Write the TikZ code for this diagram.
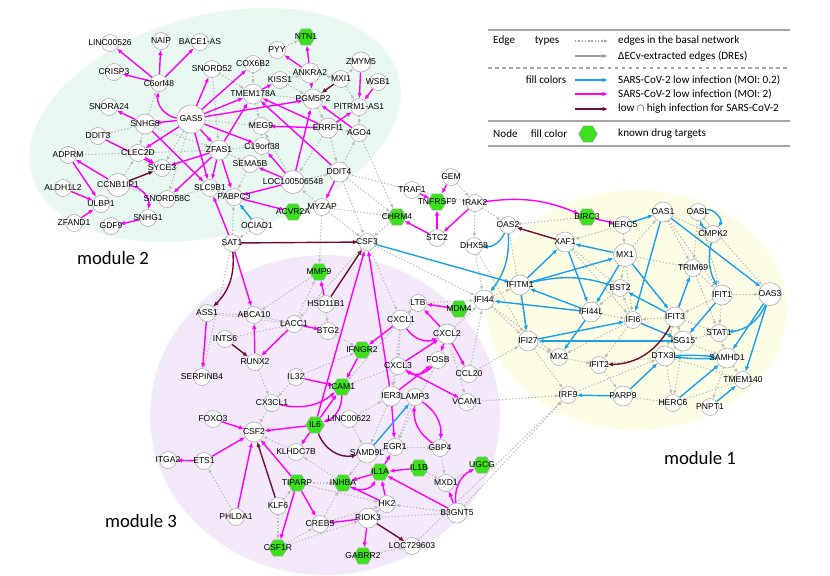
\documentclass[tikz,border=0pt]{standalone}
\usepackage{fontspec}
\setmainfont{Liberation Sans}
\newfontfamily\calibrifont{Carlito}
\usetikzlibrary{
arrows.meta,
positioning,
shapes.geometric,
backgrounds
}
\definecolor{moiLow}{HTML}{1BA1EC}
\definecolor{moiHigh}{HTML}{FF00FF}
\definecolor{moiBoth}{HTML}{6D1038}
\definecolor{drugGreen}{HTML}{3BE21B}
\definecolor{modOneBg}{HTML}{FDFDE6}
\definecolor{modTwoBg}{HTML}{E9F8F1}
\definecolor{modThreeBg}{HTML}{F4E9FA}
\definecolor{basalGray}{HTML}{BDBDBD}

\pgfdeclarelayer{modules}
\pgfdeclarelayer{edges}
\pgfsetlayers{modules,edges,main}

\newcommand{\genefont}{\fontsize{7.3}{8}\selectfont}

\tikzset{
  gene/.style={circle, draw=gray!65, fill=white, line width=0.5pt, inner sep=0pt, minimum size=0.51cm},
  hub/.style={gene, minimum size=0.6cm},
  bighub/.style={gene, minimum size=0.69cm},
  drug/.style={regular polygon, regular polygon sides=6, draw=gray!65, fill=drugGreen, line width=0.5pt, inner sep=0pt, minimum size=0.56cm},
  every label/.style={font=\genefont, inner sep=0pt, text=black},
  dreTip/.style={-{Latex[length=4.5pt,width=3.8pt]}},
  lowEdge/.style={dreTip, moiLow, line width=1.2pt},
  highEdge/.style={dreTip, moiHigh, line width=1.2pt},
  bothEdge/.style={dreTip, moiBoth, line width=1.2pt},
  basalEdge/.style={-{Latex[length=3.5pt,width=3pt]}, basalGray, line width=0.9pt, dash pattern=on 1.2pt off 1.6pt},
  legendText/.style={font=\calibrifont\fontsize{9.5}{11}\selectfont, inner sep=0pt},
  moduleText/.style={font=\calibrifont\fontsize{16}{18}\selectfont}
}

\begin{document}
\begin{tikzpicture}[x=0.03cm, y=-0.03cm]
    \useasboundingbox (0,0) rectangle (830,575);

    % Module backgrounds
    \begin{pgfonlayer}{modules}
        \fill[modTwoBg, rotate around={15:(215,125)}] (215,125) ellipse [x radius=5.7cm, y radius=3.3cm];
        \fill[modThreeBg] (325,415) ellipse [x radius=5.25cm, y radius=4.8cm];
        \fill[modOneBg] (637,310) ellipse [x radius=4.5cm, y radius=3.6cm];
    \end{pgfonlayer}

    % Genes (plain)
    \foreach \nm/\x/\y in {LINC00526/110/43, NAIP/161/41, CRISP3/114/72, C6orf48/159/83, SNORD52/212/69,
        SNORA24/109/107, DDIT3/98/136, PYY/277/50, COX6B2/253/64, MXI1/341/79, WSB1/378/82, KISS1/280/80,
        MEG9/261/126, AGO4/359/133, C19orf38/262/146, CLEC2D/138/153, ADPRM/68/155, SYCE3/162/168,
        ALDH1L2/63/188, SLC9B1/210/188, SNORD58C/167/199, PABPC3/234/197, ULBP1/101/204, SNHG1/148/218,
        ZFAND1/74/223, GDF9/111/226, SEMA5B/250/164, MYZAP/322/207, OCIAD1/257/226, SAT1/232/243,
        CSF3/367/242, GEM/451/177, TRAF1/412/190, IRAK2/475/203, STC2/437/238, DHX58/474/246,
        HERC5/623/225, OASL/698/212, CMPK2/713/234, OAS2/508/225, TRIM69/693/268, BST2/620/288,
        IFI6/633/320, STAT1/719/333, MX2/559/357, IFIT2/599/365, TMEM140/743/380, IRF9/568/395,
        HERC6/673/403, PNPT1/710/407, HSD11B1/326/304, ASS1/207/313, ABCA10/254/315, LACC1/294/324,
        BTG2/328/331, INTS6/225/339, RUNX2/255/362, SERPINB4/202/377, IL32/296/377, CX3CL1/272/403,
        LTB/418/303, CXCL3/398/366, FOSB/438/360, CCL20/469/374, LAMP3/415/397, VCAM1/467/402,
        LINC00622/349/419, FOXO3/213/419, KLHDC7B/296/452, EGR1/395/447, GBP4/440/448, ITGA2/168/460,
        ETS1/204/461, MXD1/446/483, HK2/387/504, KLF6/278/506, PHLDA1/236/517, CREB5/320/524,
        LOC729603/412/546}
        \node[gene, label=center:\nm] (\nm) at (\x,\y) {};

    % Genes (hubs)
    \foreach \nm/\x/\y in {SNHG8/145/124, ANKRA2/310/73, ZMYM5/361/62, TMEM178A/253/94, PGM5P2/313/99,
        ERRFI1/328/128, ZFAS1/219/150, DDIT4/339/172, XAF1/565/242, OAS1/663/212, IFITM1/520/285,
        IFI44/484/300, IFIT1/722/295, IFI44L/591/312, IFIT3/675/317, IFI27/528/341, ISG15/683/341,
        DTX3L/665/356, SAMHD1/727/358, PARP9/623/396, CXCL1/401/320, CXCL2/447/334, IER3/391/396,
        SAMD9L/367/453, CSF2/254/432, B3GNT5/457/513, RIOK3/368/518}
        \node[hub, label=center:\nm] (\nm) at (\x,\y) {};
    \foreach \nm/\x/\y in {CCNB1IP1/118/185, LOC100506548/293/182, MX1/625/255, OAS3/770/294}
        \node[bighub, label=center:\nm] (\nm) at (\x,\y) {};
    \node[gene, minimum size=0.84cm, label=center:GAS5] (GAS5) at (191,119) {};
    \node[gene, label=center:BACE1-AS] (BACEAS) at (200,42) {};
    \node[gene, label=center:PITRM1-AS1] (PITRM) at (359,107) {};

    % Known drug targets
    \foreach \nm/\x/\y in {NTN1/306/37, ACVR2A/293/212, TNFRSF9/437/202, CHRM4/397/217, BIRC3/587/217,
        MMP9/319/272, MDM4/459/309, IFNGR2/362/350, ICAM1/342/387, IL6/315/425, IL1B/419/468,
        IL1A/380/472, UGCG/482/465, TIPARP/297/483, INHBA/343/483, CSF1R/278/548, GABRR2/363/556}
        \node[drug, label=center:\nm] (\nm) at (\x,\y) {};

    % Module names
    \node[moduleText] (modTwoLbl) at (113,258) {module 2};
    \node[moduleText] (modThreeLbl) at (141,521) {module 3};
    \node[moduleText] (modOneLbl) at (700,458) {module 1};

    \begin{pgfonlayer}{edges}
    % Basal network edges
    \foreach \a/\b in {SNHG8/C6orf48, SNHG8/DDIT3, SNHG8/CLEC2D, SNHG8/ZFAS1, GAS5/MEG9, GAS5/SNORD58C,
        GAS5/SYCE3, SNORD52/TMEM178A, SNORD52/ZFAS1, COX6B2/TMEM178A, PYY/NTN1, KISS1/PGM5P2,
        KISS1/ANKRA2, TMEM178A/MEG9, TMEM178A/PGM5P2, MEG9/C19orf38, MXI1/ZMYM5, MXI1/PITRM,
        ERRFI1/AGO4, ERRFI1/DDIT4, PGM5P2/ERRFI1, ERRFI1/LOC100506548, ZFAS1/C19orf38, ZFAS1/SEMA5B,
        ZFAS1/CLEC2D, SLC9B1/SNORD58C, SLC9B1/PABPC3, CCNB1IP1/SNORD58C, CCNB1IP1/CLEC2D, CLEC2D/ADPRM,
        SEMA5B/PABPC3, LOC100506548/DDIT4, LOC100506548/MEG9, DDIT4/AGO4, MYZAP/LOC100506548,
        MYZAP/ACVR2A, OCIAD1/SAT1, SAT1/PABPC3, PITRM/AGO4, ANKRA2/MXI1}
        \draw[basalEdge] (\a) -- (\b);
    \foreach \a/\b in {DDIT4/CHRM4, DDIT4/CSF3, AGO4/CHRM4, MYZAP/CHRM4, MYZAP/CSF3, MYZAP/MMP9,
        DDIT4/TRAF1, IRAK2/OAS2, IRAK2/DHX58, GEM/IRAK2, TRAF1/IRAK2, CHRM4/CSF3, DHX58/IFI44,
        CSF3/LACC1, CSF3/CXCL1, CSF3/IFI44}
        \draw[basalEdge] (\a) -- (\b);
    \foreach \a/\b in {ASS1/ABCA10, ASS1/LACC1, SAT1/SERPINB4, ABCA10/LACC1, INTS6/LACC1, RUNX2/CX3CL1,
        LACC1/MMP9, MMP9/ABCA10, HSD11B1/BTG2, BTG2/IFNGR2, IL32/CX3CL1, IL32/IFNGR2, CX3CL1/CSF2,
        CXCL1/LTB, CXCL1/CXCL3, CXCL1/IER3, CXCL1/ICAM1, CXCL3/IER3, CXCL3/ICAM1, CXCL2/VCAM1,
        FOSB/EGR1, LAMP3/EGR1, IER3/SAMD9L, LTB/IFI44, CXCL2/IFI44, CCL20/IFI27, CCL20/IFI44,
        VCAM1/IRF9, IL1B/MXD1, MXD1/UGCG, B3GNT5/IRF9, LOC729603/IRF9, GABRR2/LOC729603, CSF1R/RIOK3,
        CSF1R/CREB5, KLF6/TIPARP, KLF6/CSF1R, PHLDA1/ETS1, TIPARP/INHBA, TIPARP/HK2, CREB5/INHBA,
        CREB5/HK2, RIOK3/HK2, RIOK3/B3GNT5, INHBA/KLHDC7B, KLHDC7B/CSF2, SAMD9L/EGR1, SAMD9L/INHBA,
        EGR1/GBP4, GBP4/MXD1, B3GNT5/HK2, LINC00622/SAMD9L, LINC00622/IER3}
        \draw[basalEdge] (\a) -- (\b);
    \foreach \a/\b in {IFI44/IFITM1, IFI44/IFI27, XAF1/BST2, XAF1/IFI6, MX1/BST2, MX1/OAS1, MX1/TRIM69,
        MX1/IFI6, OAS1/CMPK2, OAS1/TRIM69, OAS1/IFIT1, OASL/TRIM69, OASL/IFIT1, OASL/OAS3, TRIM69/IFIT1,
        TRIM69/IFIT3, TRIM69/STAT1, IFIT1/OAS3, IFIT1/STAT1, IFIT1/IFIT3, IFIT3/ISG15, IFIT3/IFI6,
        IFIT3/DTX3L, IFIT3/STAT1, STAT1/ISG15, STAT1/SAMHD1, ISG15/DTX3L, ISG15/SAMHD1, ISG15/HERC6,
        DTX3L/HERC6, DTX3L/IFIT2, DTX3L/TMEM140, SAMHD1/TMEM140, SAMHD1/PNPT1, TMEM140/HERC6, IFI6/MX2,
        IFI6/IFIT2, IFI6/BST2, IFI27/MX2, IFI27/IRF9, MX2/IFIT2, IFIT2/PARP9, IRF9/DTX3L, PARP9/HERC6,
        BST2/IFI44L, IFI44L/IFI6, OAS2/IFI27, DHX58/IFI27, HERC5/MX1, HERC5/XAF1, BIRC3/OAS2, IFI44/MX2}
        \draw[basalEdge] (\a) -- (\b);

    % DREs, SARS-CoV-2 MOI 2
    \foreach \a/\b in {C6orf48/LINC00526, C6orf48/NAIP, C6orf48/BACEAS, C6orf48/CRISP3, GAS5/SNHG8,
        SNHG8/SNORA24, GAS5/SNORD52, GAS5/COX6B2, GAS5/TMEM178A, GAS5/PGM5P2, GAS5/C19orf38, GAS5/ZFAS1,
        GAS5/SLC9B1, GAS5/CLEC2D, SNHG8/SLC9B1, DDIT3/SYCE3, TMEM178A/KISS1, ERRFI1/TMEM178A,
        DDIT4/TMEM178A, ANKRA2/PYY, ANKRA2/NTN1, ANKRA2/PGM5P2, ZMYM5/PITRM, WSB1/PITRM, ERRFI1/PITRM,
        AGO4/PGM5P2, ERRFI1/MEG9, LOC100506548/PGM5P2, ZFAS1/SYCE3, CLEC2D/SYCE3, ZFAS1/SNORD58C,
        ZFAS1/SLC9B1, ZFAS1/PABPC3, ZFAS1/TMEM178A, CCNB1IP1/ADPRM, ADPRM/ULBP1, ALDH1L2/ULBP1,
        ZFAND1/ULBP1, SNHG1/GDF9, LOC100506548/C19orf38, LOC100506548/SEMA5B, LOC100506548/PABPC3,
        PABPC3/ACVR2A, DDIT4/MYZAP, SAT1/SLC9B1, SAT1/ABCA10}
        \draw[highEdge] (\a) -- (\b);
    \foreach \a/\b in {TRAF1/TNFRSF9, GEM/TNFRSF9, STC2/TNFRSF9, STC2/CHRM4, IRAK2/STC2, BIRC3/HERC5,
        ASS1/SERPINB4, RUNX2/ABCA10, LACC1/RUNX2, LACC1/BTG2, HSD11B1/MMP9, IER3/CSF3, IL6/CSF3,
        IER3/EGR1, MDM4/LTB, CXCL2/LTB, CXCL2/CCL20, CXCL3/CXCL2, CXCL2/FOSB, CXCL3/VCAM1, IER3/FOSB,
        CXCL1/IFNGR2, IFNGR2/ICAM1, IL32/ICAM1, IL6/ICAM1, IL6/CSF2, IL6/KLHDC7B, IL1A/EGR1, IL1B/IL1A,
        B3GNT5/IL1A, IL1A/INHBA, HK2/INHBA, HK2/IL1A, RIOK3/CREB5, RIOK3/GABRR2, B3GNT5/MXD1,
        TIPARP/CSF2, TIPARP/CSF1R, TIPARP/CREB5, PHLDA1/CSF2, ETS1/CSF2, ETS1/ITGA2, FOXO3/CSF2}
        \draw[highEdge] (\a) -- (\b);
    \draw[highEdge] (GAS5) to[bend left=45] (C6orf48);
    \draw[highEdge] (CCNB1IP1) to[bend left=45] (SNHG1);
    \draw[highEdge] (CXCL1) to[bend right=40] (CXCL2);
    \draw[highEdge] (FOSB) to[bend left=40] (CXCL3);
    \draw[highEdge] (CX3CL1) to[bend right=25] (ICAM1);
    \draw[highEdge] (ICAM1) to[bend left=35] (IL6);
    \draw[highEdge] (LAMP3) to[bend left=30] (GBP4);
    \draw[highEdge] (GBP4) to[bend left=30] (LAMP3);
    \draw[highEdge] (INHBA) to[bend right=45] (IL1A);
    \draw[highEdge] (B3GNT5) to[bend left=35] (UGCG);
    \draw[highEdge] (IRAK2) to[bend left=15] (BIRC3);

    % DREs, SARS-CoV-2 MOI 0.2
    \foreach \a/\b in {OCIAD1/PABPC3, CSF3/IFITM1, SAMD9L/LAMP3, HERC5/OAS1, MX1/XAF1, OAS1/OAS3,
        OAS1/IFI6, IFIT1/ISG15, IFIT3/TRIM69, IFIT3/BST2, MX1/IFIT3, IFI6/ISG15, IFI27/IFI6, ISG15/IFI27,
        IFITM1/IFI27, IFI44L/IFITM1, IFI44L/IFI44, IFI44L/MX2, MX1/IFI44L, IFITM1/XAF1, IFITM1/MX1,
        XAF1/IFI44L, OAS3/SAMHD1, OAS3/TMEM140, PARP9/IRF9, PARP9/DTX3L, HERC6/SAMHD1, PNPT1/TMEM140}
        \draw[lowEdge] (\a) -- (\b);
    \draw[lowEdge] (CMPK2) to[bend left=20] (OASL);
    \draw[lowEdge] (OASL) to[bend left=70] (CMPK2);
    \draw[lowEdge] (OAS2) to[bend left=35] (DHX58);
    \draw[lowEdge] (CMPK2) to[bend right=20] (IFIT1);
    \draw[lowEdge] (IFITM1) to[bend left=15] (BST2);
    \draw[lowEdge] (OAS2) to[bend left=20] (IFI44);
    \draw[lowEdge] (OAS3) to[bend left=30] (STAT1);
    \draw[lowEdge] (DTX3L) to[bend left=4] (SAMHD1);
    \draw[lowEdge] (SAMHD1) to[bend left=4] (DTX3L);

    % DREs shared by low and high infection
    \foreach \a/\b in {MXI1/PGM5P2, CCNB1IP1/SYCE3, SAT1/CSF3, INTS6/RUNX2, HSD11B1/CSF3, KLF6/CSF2,
        RIOK3/LOC729603, XAF1/OAS2}
        \draw[bothEdge] (\a) -- (\b);
    \draw[bothEdge] (SAT1) to[bend left=25] (ASS1);
    \draw[bothEdge] (IL6) to[bend right=40] (SAMD9L);
    \draw[bothEdge] (IFIT3) to[bend left=30] (IFIT2);
    \end{pgfonlayer}

    % Legend
    \draw[gray!70, line width=1pt] (488,30) -- (790,30);
    \draw[gray!70, line width=1pt, dashed] (488,68) -- (790,68);
    \draw[gray!70, line width=1pt] (488,121) -- (790,121);
    \draw[gray!70, line width=1pt] (488,146) -- (790,146);

    \node[legendText, anchor=west] (edgeHdr) at (493,41) {Edge};
    \node[legendText] (typesHdr) at (547,41) {types};
    \node[legendText] (fillHdr) at (546,80) {fill colors};
    \node[legendText, anchor=west] (nodeHdr) at (493,134) {Node};
    \node[legendText] (nodeFillHdr) at (549,134) {fill color};

    \foreach \k/\y in {basal/41, dre/56, low/80, high/94, both/109} {
        \coordinate (\k From) at (575,\y);
        \coordinate (\k To) at (608,\y);
    }
    \draw[basalEdge, gray!70] (basalFrom) -- (basalTo);
    \draw[dreTip, gray!75, line width=1.1pt] (dreFrom) -- (dreTo);
    \draw[lowEdge] (lowFrom) -- (lowTo);
    \draw[highEdge] (highFrom) -- (highTo);
    \draw[bothEdge] (bothFrom) -- (bothTo);
    \node[drug] (drugKey) at (588,134) {};

    \node[legendText, anchor=west] (basalTxt) at (618,41) {edges in the basal network};
    \node[legendText, anchor=west] (dreTxt) at (618,56) {ΔECv-extracted edges (DREs)};
    \node[legendText, anchor=west] (lowTxt) at (618,80) {SARS-CoV-2 low infection (MOI: 0.2)};
    \node[legendText, anchor=west] (highTxt) at (618,94) {SARS-CoV-2 low infection (MOI: 2)};
    \node[legendText, anchor=west] (bothTxt) at (618,109) {low $\cap$ high infection for SARS-CoV-2};
    \node[legendText, anchor=west] (drugTxt) at (618,134) {known drug targets};
\end{tikzpicture}
\end{document}
